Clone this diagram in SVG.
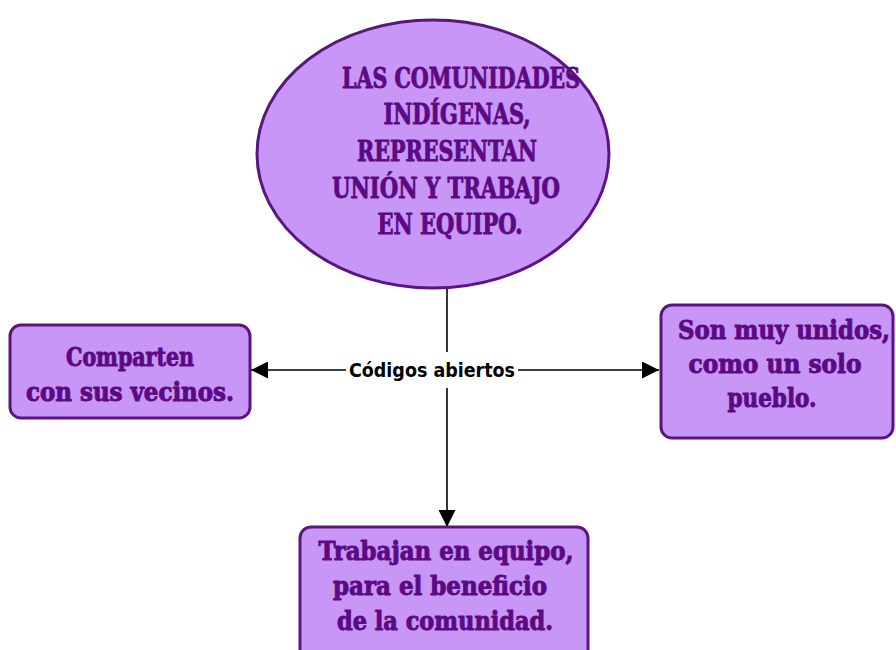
<svg xmlns="http://www.w3.org/2000/svg" width="896" height="650" viewBox="0 0 896 650">
<defs>
<style>
.node{fill:#c896f7;stroke:#5a1580;stroke-width:3}
.t{font-family:"DejaVu Serif Condensed","DejaVu Serif",serif;font-weight:bold;font-stretch:condensed;fill:#5c0a84;stroke:#5c0a84;stroke-width:0.9;text-anchor:middle}
.big{font-size:28px}
.box{font-size:26px}
.lbl{font-family:"DejaVu Sans Condensed","DejaVu Sans",sans-serif;font-stretch:condensed;font-weight:bold;font-size:19px;fill:#000;text-anchor:middle}
.c{stroke:#000;stroke-width:1.6;fill:none}
</style>
<marker id="ah" viewBox="0 0 10 10" refX="10" refY="5" markerWidth="19" markerHeight="17" markerUnits="userSpaceOnUse" orient="auto">
<path d="M0,0 L10,5 L0,10 Z" fill="#000"/>
</marker>
</defs>
<rect width="896" height="650" fill="#fff"/>
<g id="connectors">
<line class="c" x1="447" y1="288" x2="447" y2="352"/>
<line class="c" x1="447" y1="388" x2="447" y2="527" marker-end="url(#ah)"/>
<line class="c" x1="346" y1="370" x2="251" y2="370" marker-end="url(#ah)"/>
<line class="c" x1="518" y1="370" x2="659" y2="370" marker-end="url(#ah)"/>
<text class="lbl" x="432" y="377" textLength="166" lengthAdjust="spacingAndGlyphs">Códigos abiertos</text>
</g>
<g id="center">
<ellipse class="node" cx="433" cy="154" rx="176" ry="134"/>
<text class="t big" x="461" y="88" textLength="238" lengthAdjust="spacingAndGlyphs">LAS COMUNIDADES</text>
<text class="t big" x="457" y="124" textLength="147" lengthAdjust="spacingAndGlyphs">INDÍGENAS,</text>
<text class="t big" x="447" y="161" textLength="180" lengthAdjust="spacingAndGlyphs">REPRESENTAN</text>
<text class="t big" x="446" y="198" textLength="228" lengthAdjust="spacingAndGlyphs">UNIÓN Y TRABAJO</text>
<text class="t big" x="450" y="234" textLength="145" lengthAdjust="spacingAndGlyphs">EN EQUIPO.</text>
</g>
<g id="left">
<rect class="node" x="10" y="325" width="240" height="93" rx="11"/>
<text class="t box" x="130" y="366" textLength="128" lengthAdjust="spacingAndGlyphs">Comparten</text>
<text class="t box" x="130" y="401" textLength="208" lengthAdjust="spacingAndGlyphs">con sus vecinos.</text>
</g>
<g id="right">
<rect class="node" x="661" y="305" width="232" height="133" rx="11"/>
<text class="t box" x="784" y="339" textLength="212" lengthAdjust="spacingAndGlyphs">Son muy unidos,</text>
<text class="t box" x="775" y="373" textLength="173" lengthAdjust="spacingAndGlyphs">como un solo</text>
<text class="t box" x="772" y="407" textLength="89" lengthAdjust="spacingAndGlyphs">pueblo.</text>
</g>
<g id="bottom">
<rect class="node" x="300" y="527" width="288" height="135" rx="11"/>
<text class="t box" x="446" y="560" textLength="255" lengthAdjust="spacingAndGlyphs">Trabajan en equipo,</text>
<text class="t box" x="440" y="595" textLength="214" lengthAdjust="spacingAndGlyphs">para el beneficio</text>
<text class="t box" x="445" y="630" textLength="216" lengthAdjust="spacingAndGlyphs">de la comunidad.</text>
</g>
</svg>
